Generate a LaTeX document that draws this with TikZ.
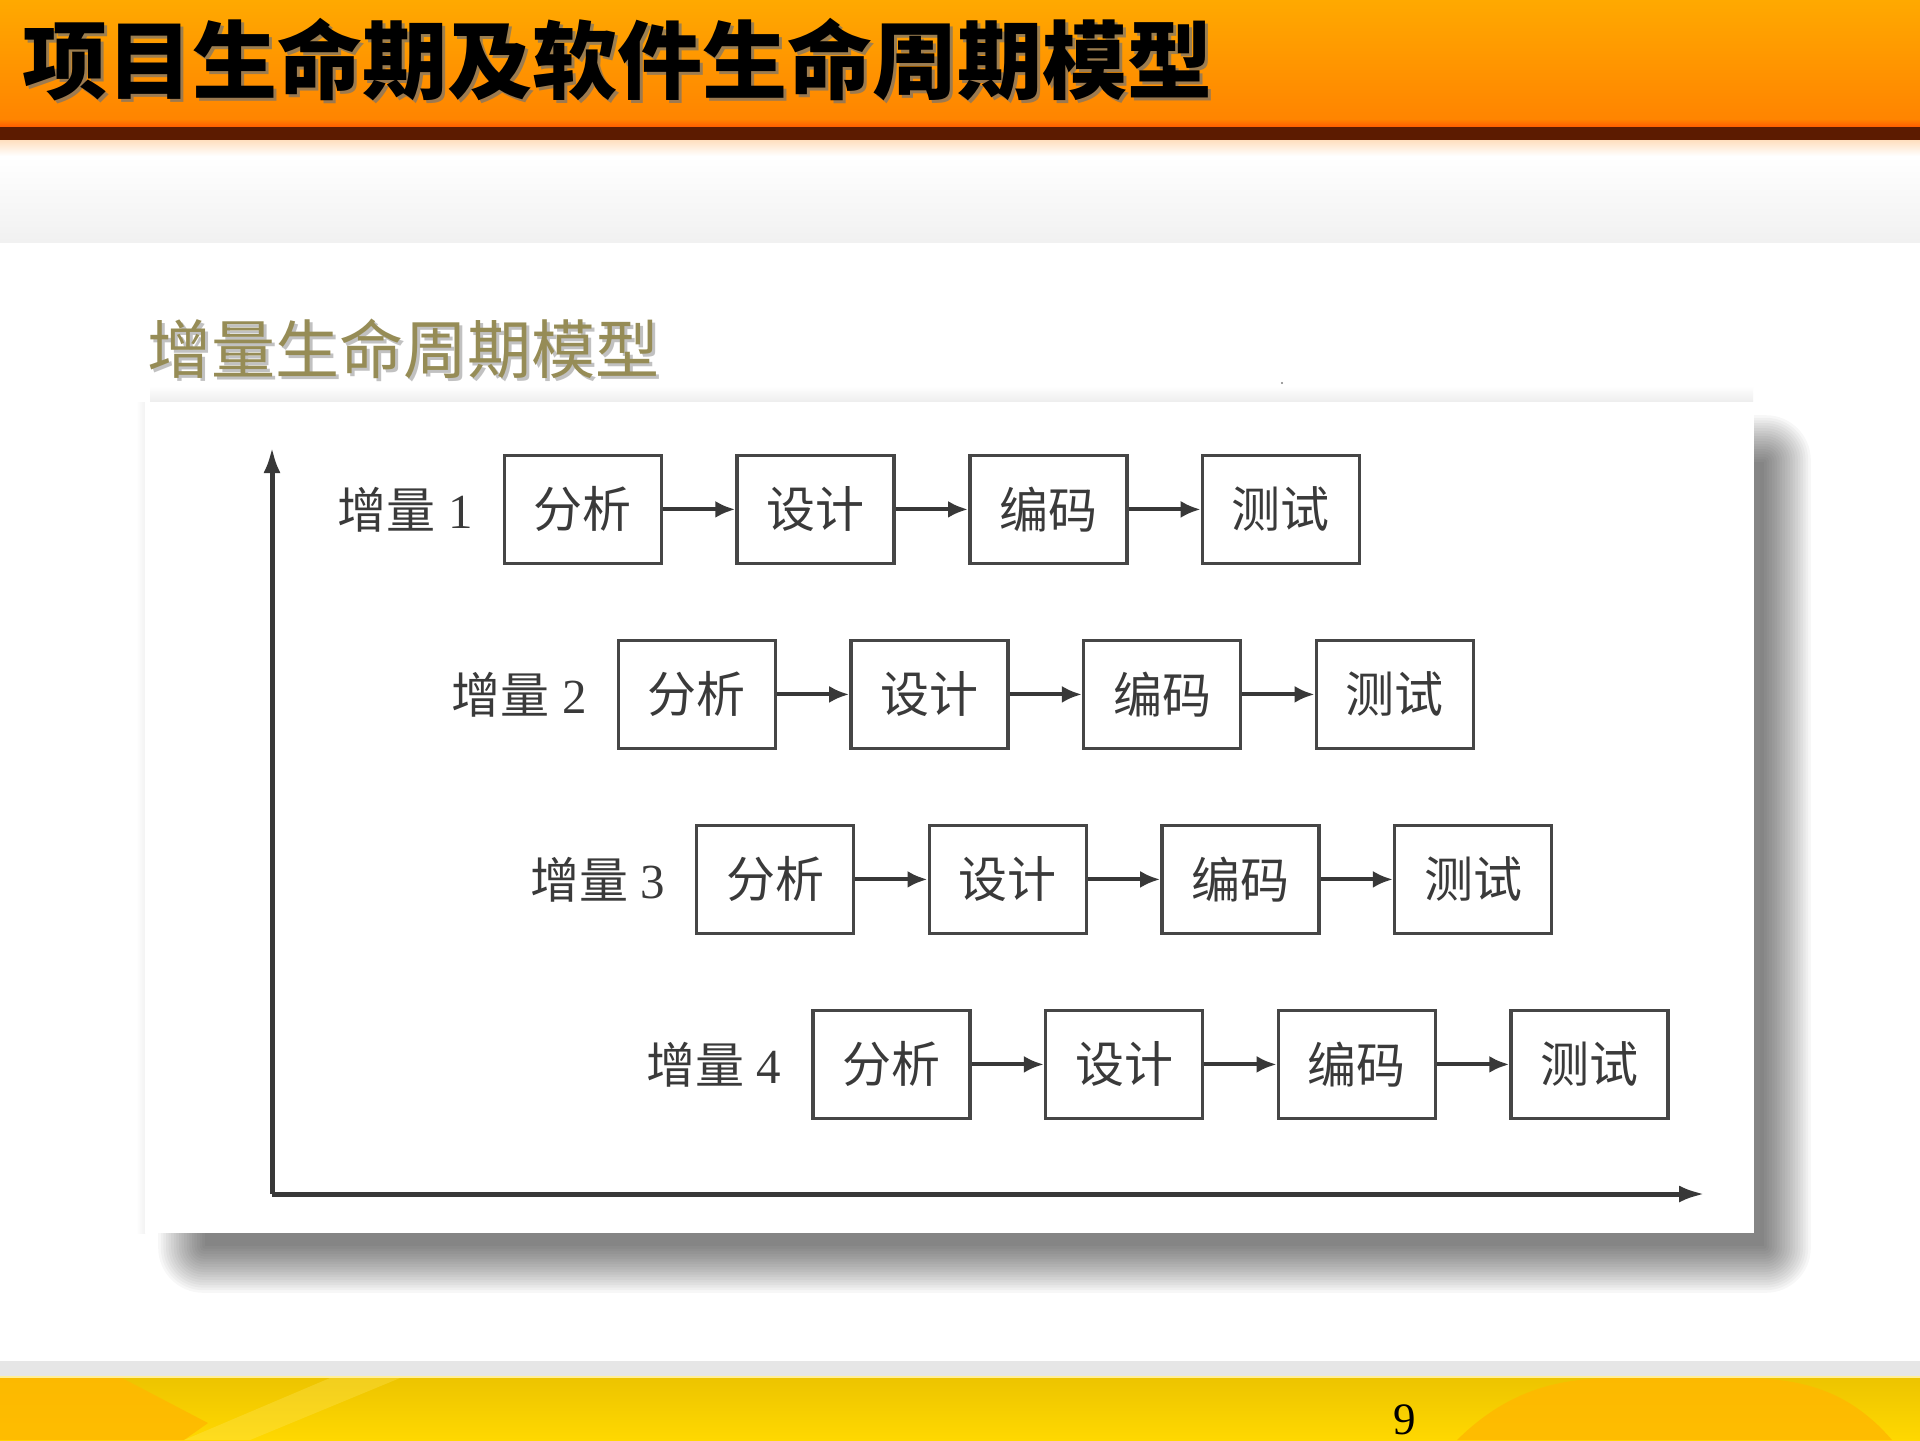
\documentclass[tikz,border=0pt]{standalone}
\usepackage{fontspec}
\setmainfont{Liberation Serif}
\newfontfamily\cjk{Noto Sans CJK SC}
\usetikzlibrary{arrows.meta}
\definecolor{hdrtop}{HTML}{FFA900}
\definecolor{hdrbot}{HTML}{FF8400}
\definecolor{hdrdark}{HTML}{5C1B00}
\definecolor{subc}{HTML}{968C56}
\definecolor{boxc}{HTML}{464646}
\definecolor{txtc}{HTML}{3A3A3A}
\definecolor{axisc}{HTML}{383838}
\definecolor{bandgray}{HTML}{F1F1F1}
\definecolor{footgray}{HTML}{E6E6E6}
\definecolor{ylw}{HTML}{FFD800}
\definecolor{ylwtop}{HTML}{EDC400}
\definecolor{orng}{HTML}{FFB800}
\tikzset{
  bx/.style={draw=boxc, line width=1.75pt, fill=white, minimum width=78.5pt, minimum height=53.9pt, inner sep=0pt, text=txtc, font=\cjk\fontsize{24.5pt}{28pt}\selectfont},
  lbl/.style={inner sep=0pt, text=txtc, font=\fontsize{24.5pt}{28pt}\selectfont},
  conn/.style={draw=axisc, line width=2pt, -{Latex[length=10pt,width=8.5pt]}},
  axis/.style={draw=axisc, line width=2.5pt, -{Latex[length=13pt,width=8.5pt]}},
  ttl/.style={inner sep=0pt, anchor=base west, font=\cjk\bfseries\fontsize{42.5pt}{48pt}\selectfont},
  subttl/.style={inner sep=0pt, anchor=base west, font=\cjk\fontsize{32pt}{38pt}\selectfont},
  shadowlayer/.style={fill=black, opacity=0.032}
}
\begin{document}
\begin{tikzpicture}[x=0.5pt,y=-0.5pt]
\useasboundingbox (0,0) rectangle (1920,1440);
\fill[white] (0,0) rectangle (1920,1440);
% header
\shade[top color=hdrtop, bottom color=hdrbot] (0,0) rectangle (1920,120);
\shade[top color=hdrbot, bottom color=hdrbot!70!red] (0,119) rectangle (1920,127);
\fill[hdrdark] (0,127) rectangle (1920,140);
\shade[top color=orange!25, bottom color=white] (0,140) rectangle (1920,156);
\shade[top color=white, bottom color=bandgray] (0,156) rectangle (1920,242);
% title
\node[ttl, text=black!55, opacity=0.7] at (25,95) {项目生命期及软件生命周期模型};
\node[ttl, text=black] (title) at (22,92) {项目生命期及软件生命周期模型};
% subtitle
\node[subttl, text=black!40, opacity=0.6] at (150,376) {增量生命周期模型};
\node[subttl, text=subc] (sub) at (147,373) {增量生命周期模型};
\fill[black!50] (1282,383) circle (1.2);
% panel shadow (soft, to the lower right)
\shade[top color=white, bottom color=black!7] (150,386) rectangle (1753,402);
\shade[left color=white, right color=black!5] (136,402) rectangle (145,1233);
\foreach \i in {0,...,18}{
  \fill[shadowlayer, rounded corners={\i*1.25pt}] ({205-\i*2.6},{462-\i*2.6}) rectangle ({1764+\i*2.6},{1246+\i*2.6});
}
% panel
\node[fill=white, draw=none, inner sep=0pt, minimum width=804.5pt, minimum height=415.7pt]
  (panel) at (949,817.3) {};
% axes
\coordinate (o) at (272,1194);
\coordinate (ytip) at (272,447);
\coordinate (xtip) at (1705,1194);
\draw[axis] (o) -- (ytip);
\draw[axis] (o) -- (xtip);
% rows
\foreach \r/\lx in {1/504.5, 2/618.4, 3/696.7, 4/813.1}{
  \pgfmathsetmacro\cy{509.4+185*(\r-1)}
  \foreach \k/\t in {1/分析, 2/设计, 3/编码, 4/测试}{
    \node[bx] (b\r\k) at ({\lx+78.35+232.7*(\k-1)}, \cy) {\t};
  }
  \node[lbl, anchor=east] (l\r) at ([xshift=-14.75pt]b\r1.west) {{\cjk 增量} \r};
  \foreach \k [evaluate=\k as \n using int(\k+1)] in {1,2,3}{
    \draw[conn] (b\r\k.east) -- (b\r\n.west);
  }
}
% footer
\fill[footgray] (0,1361) rectangle (1920,1376);
\fill[ylw!40] (0,1376) rectangle (1920,1378);
\shade[top color=ylwtop, bottom color=ylw] (0,1378) rectangle (1920,1440);
\begin{scope}
  \clip (0,1378) rectangle (1920,1440);
  \fill[orng, opacity=0.85] (0,1378) -- (122,1378) -- (208,1423) -- (184,1440) -- (0,1440) -- cycle;
  \fill[ylw!60!white, opacity=0.3] (330,1378) -- (400,1378) -- (250,1440) -- (184,1440) -- cycle;
  \fill[orng, opacity=0.85] (1457,1440) .. controls (1530,1368) and (1600,1378) .. (1677,1378) .. controls (1760,1378) and (1830,1368) .. (1892,1440) -- cycle;
\end{scope}
\node[inner sep=0pt, anchor=base, font=\fontsize{22.5pt}{26pt}\selectfont] (pg) at (1405,1434) {9};
\end{tikzpicture}
\end{document}
